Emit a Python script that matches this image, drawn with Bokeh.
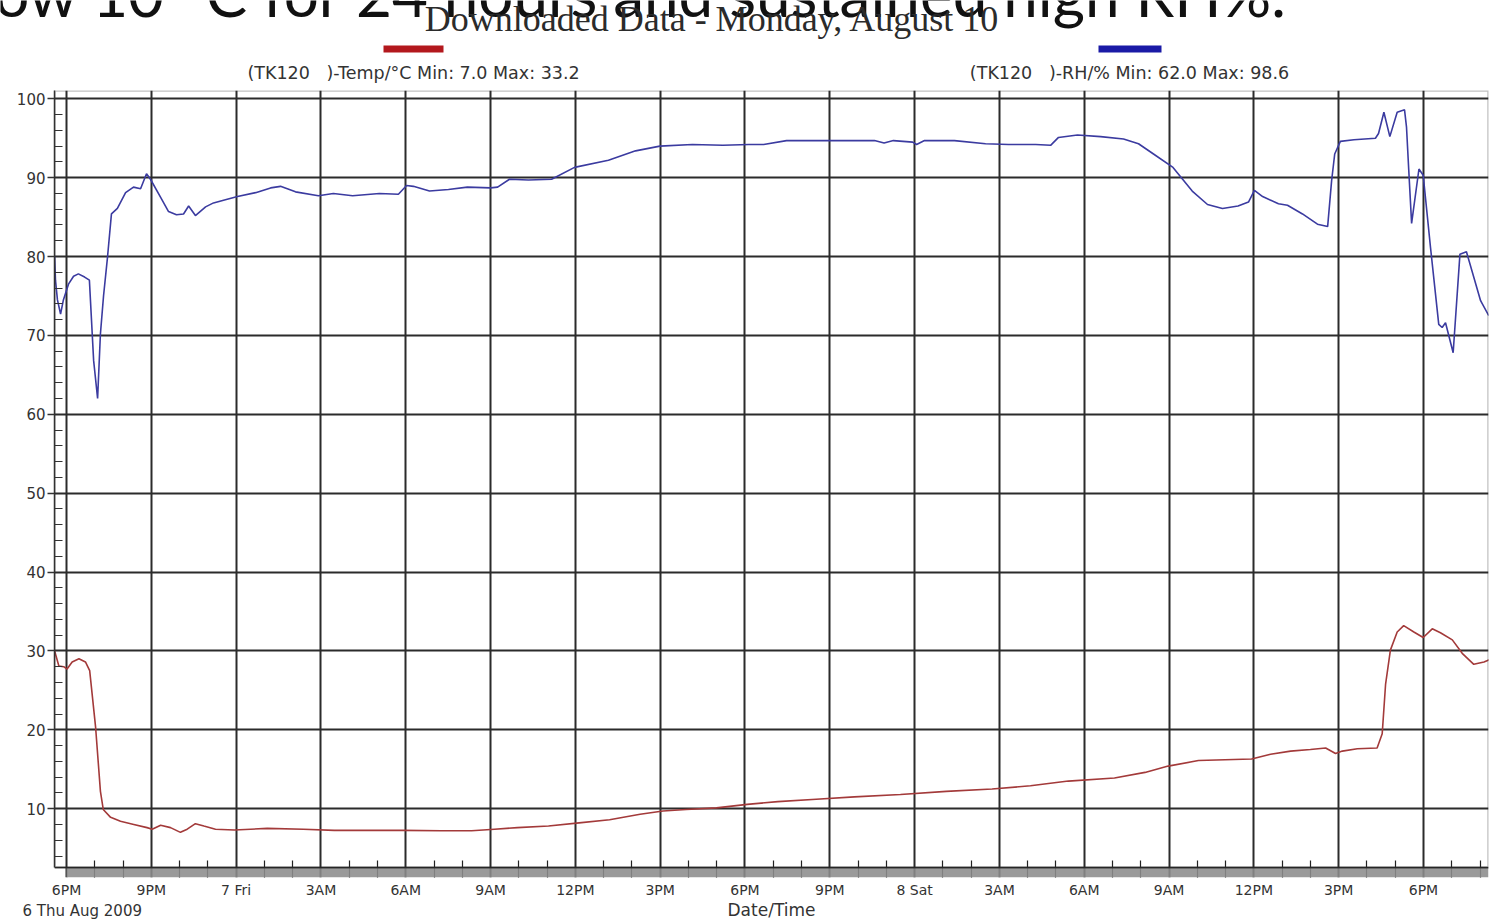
from bokeh.plotting import figure
from bokeh.layouts import column
from bokeh.models import Range1d, FixedTicker, Label, BoxAnnotation, Span
from bokeh.embed import file_html
from bokeh.resources import INLINE

# ---- data: hours since Thu 6 Aug 2009 18:00 ----
rh_hours = [-0.42, -0.39, -0.32, -0.21, -0.11, 0.07, 0.25, 0.42, 0.64, 0.81, 0.96, 1.10, 1.20, 1.31,
            1.45, 1.59, 1.80, 2.09, 2.37, 2.62, 2.83, 2.97, 3.33, 3.61, 3.89, 4.14, 4.32, 4.56, 4.92,
            5.20, 5.62, 6.05, 6.69, 7.22, 7.57, 8.10, 8.91, 9.44, 10.12, 11.07, 11.74, 12.03, 12.27,
            12.84, 13.51, 14.18, 15.00, 15.25, 15.67, 16.34, 17.16, 17.97, 19.17, 20.13, 20.99, 22.14,
            23.22, 24.14, 24.66, 25.47, 27.10, 28.58, 28.92, 29.25, 29.93, 30.07, 30.35, 31.41, 32.51,
            33.32, 34.28, 34.81, 35.09, 35.76, 36.58, 37.39, 37.92, 38.45, 39.14, 39.82, 40.36, 40.89,
            41.44, 41.81, 42.02, 42.31, 42.87, 43.19, 43.72, 44.25, 44.61, 44.75, 44.86, 45.06, 45.54,
            46.30, 46.41, 46.60, 46.81, 47.07, 47.33, 47.40, 47.48, 47.58, 47.84, 47.99, 48.25, 48.54,
            48.66, 48.78, 49.05, 49.29, 49.52, 50.02, 50.31]
rh_values = [80.0, 77.0, 74.5, 72.7, 74.5, 76.5, 77.5, 77.8, 77.4, 77.0, 66.8, 62.0, 70.2, 75.0,
             79.9, 85.4, 86.1, 88.1, 88.8, 88.6, 90.5, 89.8, 87.5, 85.7, 85.3, 85.4, 86.4, 85.2, 86.3,
             86.8, 87.2, 87.6, 88.1, 88.7, 88.9, 88.2, 87.7, 88.0, 87.7, 88.0, 87.9, 89.0, 88.9,
             88.3, 88.5, 88.8, 88.7, 88.8, 89.8, 89.7, 89.8, 91.3, 92.2, 93.4, 94.0, 94.2,
             94.1, 94.2, 94.2, 94.7, 94.7, 94.7, 94.4, 94.7, 94.5, 94.2, 94.7, 94.7, 94.3,
             94.2, 94.2, 94.1, 95.1, 95.4, 95.2, 94.9, 94.3, 93.0, 91.3, 88.3, 86.6, 86.1,
             86.4, 86.9, 88.4, 87.6, 86.7, 86.5, 85.4, 84.1, 83.8, 89.6, 93.0, 94.6, 94.8,
             95.0, 95.6, 98.3, 95.2, 98.3, 98.6, 96.4, 90.9, 84.2, 91.1, 90.3, 81.1, 71.4,
             71.0, 71.6, 67.8, 80.3, 80.6, 74.4, 72.5]

temp_hours = [-0.42, -0.27, -0.10, 0.02, 0.20, 0.44, 0.67, 0.82, 1.03, 1.20, 1.30, 1.56, 1.91, 2.38,
              2.85, 3.03, 3.33, 3.68, 4.03, 4.27, 4.56, 4.86, 5.27, 5.94, 7.10, 8.38, 9.47, 11.90,
              13.25, 14.33, 15.14, 15.95, 17.05, 18.13, 19.21, 20.29, 21.10, 21.92, 22.99, 24.08,
              25.16, 26.52, 27.87, 29.50, 31.12, 32.74, 34.10, 35.44, 37.07, 38.15, 38.97, 40.04,
              41.92, 42.59, 43.30, 44.00, 44.54, 44.89, 45.13, 45.66, 46.36, 46.54, 46.66, 46.83,
              47.07, 47.30, 47.66, 47.99, 48.31, 48.60, 49.02, 49.37, 49.78, 50.14, 50.35]
temp_values = [30.0, 28.1, 28.0, 27.7, 28.6, 29.0, 28.6, 27.5, 20.3, 12.2, 9.9, 8.9, 8.4, 8.0,
               7.6, 7.4, 7.9, 7.6, 7.0, 7.4, 8.1, 7.8, 7.4, 7.3, 7.5, 7.4, 7.25, 7.25,
               7.2, 7.2, 7.4, 7.6, 7.8, 8.2, 8.6, 9.3, 9.7, 9.9, 10.1, 10.55,
               10.9, 11.2, 11.5, 11.8, 12.2, 12.5, 12.9, 13.5, 13.9, 14.6, 15.4, 16.1,
               16.3, 16.9, 17.3, 17.5, 17.7, 17.0, 17.3, 17.6, 17.7, 19.5, 25.8, 30.1,
               32.4, 33.2, 32.4, 31.7, 32.8, 32.3, 31.4, 29.7, 28.3, 28.6, 28.9]

tick_hours = [0, 3, 6, 9, 12, 15, 18, 21, 24, 27, 30, 33, 36, 39, 42, 45, 48]
tick_labels = ["6PM", "9PM", "7 Fri", "3AM", "6AM", "9AM", "12PM", "3PM", "6PM",
               "9PM", "8 Sat", "3AM", "6AM", "9AM", "12PM", "3PM", "6PM"]
minor_hours = [h for h in range(0, 51) if h % 3]
y_major = [10, 20, 30, 40, 50, 60, 70, 80, 90, 100]
y_minor = [v for v in range(4, 101, 2) if v % 10]

title_text = "Downloaded Data - Monday, August 10"
caption_text = "below 10 °C for 24 hours and sustained high RH%."
temp_legend = "(TK120\u00a0\u00a0\u00a0)-Temp/°C Min: 7.0 Max: 33.2"
rh_legend = "(TK120\u00a0\u00a0\u00a0)-RH/% Min: 62.0 Max: 98.6"
date_text = "6 Thu Aug 2009"
x_title = "Date/Time"

# ---- layout (page pixels) ----
W = 1491
HEAD_H, MAIN_H, FOOT_H = 84, 816, 19
X0, X1 = -0.4245, 50.30
Y0, Y1 = 1.276, 101.05
BAND_TOP = 2.55
TXT = "#333333"
FONT = "DejaVu Sans"


def blank(h, y_top):
    return figure(width=W, height=h, output_backend="svg", toolbar_location=None, title=None,
                  x_axis_type=None, y_axis_type=None, min_border=0, frame_align=False,
                  x_range=Range1d(0, W), y_range=Range1d(y_top + h, y_top),
                  outline_line_color=None, background_fill_color="white",
                  border_fill_color="white")


# header: caption remnant, title and legend
head = blank(HEAD_H, 0)
head.add_layout(Label(x=1288, y=-8, text=caption_text, text_align="right",
                      text_baseline="middle", text_font="Lato", text_font_size="62px",
                      text_color="#111111"))
head.add_layout(Label(x=712, y=18, text=title_text, text_align="center",
                      text_baseline="middle", text_font="Liberation Serif",
                      text_font_size="36px", text_color="#2b2b2b"))
head.add_layout(BoxAnnotation(left=383, right=443, top=45, bottom=52, fill_color="#b3181d",
                              fill_alpha=1.0, line_color=None))
head.add_layout(BoxAnnotation(left=1098, right=1161, top=45, bottom=52, fill_color="#1a1aa6",
                              fill_alpha=1.0, line_color=None))
head.add_layout(Label(x=413, y=72, text=temp_legend, text_align="center",
                      text_baseline="middle", text_font=FONT, text_font_size="17.5px",
                      text_color=TXT))
head.add_layout(Label(x=1129, y=72, text=rh_legend, text_align="center",
                      text_baseline="middle", text_font=FONT, text_font_size="17.5px",
                      text_color=TXT))

# main chart
p = figure(width=W, height=MAIN_H, output_backend="svg", toolbar_location=None, title=None,
           x_range=Range1d(X0, X1), y_range=Range1d(Y0, Y1), frame_align=False,
           min_border_left=54, min_border_right=3, min_border_top=6, min_border_bottom=23,
           background_fill_color="white", border_fill_color="white",
           outline_line_color=None)

xa = p.xaxis[0]
xa.ticker = FixedTicker(ticks=tick_hours, minor_ticks=minor_hours)
xa.major_label_overrides = {h: lab for h, lab in zip(tick_hours, tick_labels)}
xa.axis_line_color = None
xa.major_tick_in = 0
xa.major_tick_out = 0
xa.minor_tick_in = 17
xa.minor_tick_out = 0
xa.minor_tick_line_color = "#222222"
xa.minor_tick_line_width = 1.2
xa.major_label_standoff = 4
xa.major_label_text_font = FONT
xa.major_label_text_font_size = "14px"
xa.major_label_text_color = TXT

ya = p.yaxis[0]
ya.ticker = FixedTicker(ticks=y_major, minor_ticks=y_minor)
ya.bounds = (BAND_TOP, Y1)
ya.axis_line_color = "#333333"
ya.axis_line_width = 1.5
ya.major_tick_in = 0
ya.major_tick_out = 7
ya.major_tick_line_color = "#333333"
ya.major_tick_line_width = 1.5
ya.minor_tick_in = 8
ya.minor_tick_out = 0
ya.minor_tick_line_color = "#333333"
ya.minor_tick_line_width = 1.2
ya.major_label_standoff = 2
ya.major_label_text_font = FONT
ya.major_label_text_font_size = "15px"
ya.major_label_text_color = TXT

for g in (p.xgrid[0], p.ygrid[0]):
    g.grid_line_color = "#2b2b2b"
    g.grid_line_width = 2

p.line(rh_hours, rh_values, line_color="#3b3ba0", line_width=1.6)
p.line(temp_hours, temp_values, line_color="#a33a3a", line_width=1.6)

# gray band under the plot, its top line, and the plot box border
p.add_layout(BoxAnnotation(left=0, right=X1, bottom=Y0, top=BAND_TOP,
                           fill_color="#8c8c8c", fill_alpha=0.88, line_color=None))
p.add_layout(Span(location=BAND_TOP, dimension="width", line_color="#222222", line_width=1.5))
p.add_layout(BoxAnnotation(left=X0, right=X1, bottom=BAND_TOP, top=Y1, fill_alpha=0,
                           line_color="#333333", line_width=2.5))

# footer: date of first tick and axis title
foot = blank(FOOT_H, HEAD_H + MAIN_H)
foot.add_layout(Label(x=22, y=910, text=date_text, text_align="left",
                      text_baseline="middle", text_font=FONT, text_font_size="15px",
                      text_color=TXT))
foot.add_layout(Label(x=771, y=909, text=x_title, text_align="center",
                      text_baseline="middle", text_font=FONT, text_font_size="17px",
                      text_color=TXT))

layout = column(head, p, foot, spacing=0)
open("out.html", "w").write(file_html(layout, INLINE))
